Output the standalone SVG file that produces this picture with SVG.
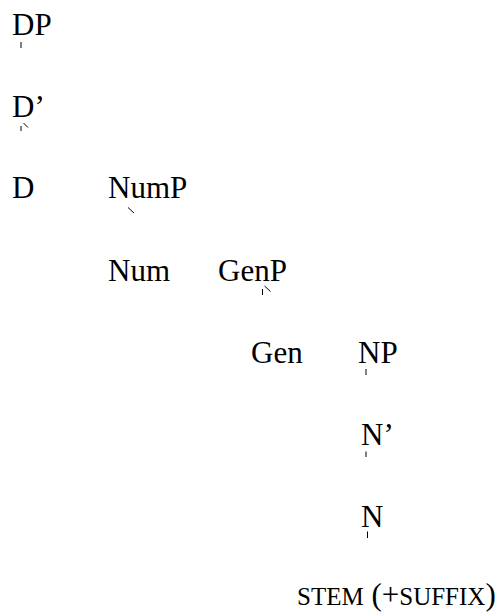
<svg xmlns="http://www.w3.org/2000/svg" width="497" height="612" viewBox="0 0 497 612">
  <style>
    .lbl { font-family: "Liberation Serif", "Times New Roman", Times, serif; font-size: 31px; fill: #000; }
    .sc { font-size: 25px; }
    .edge { stroke: #000; stroke-width: 1; fill: none; }
  </style>
  <rect width="497" height="612" fill="#fff"/>

  <!-- tree nodes -->
  <g font-family="Liberation Serif, serif">
    <g id="node-DP"><text class="lbl" x="12" y="35">DP</text></g>
    <g id="node-Dbar"><text class="lbl" x="12" y="117">D’</text></g>
    <g id="node-D"><text class="lbl" x="12" y="198">D</text></g>
    <g id="node-NumP"><text class="lbl" x="108" y="198">NumP</text></g>
    <g id="node-Num"><text class="lbl" x="108" y="281">Num</text></g>
    <g id="node-GenP"><text class="lbl" x="218" y="281">GenP</text></g>
    <g id="node-Gen"><text class="lbl" x="251" y="363">Gen</text></g>
    <g id="node-NP"><text class="lbl" x="358" y="363">NP</text></g>
    <g id="node-Nbar"><text class="lbl" x="361" y="445">N’</text></g>
    <g id="node-N"><text class="lbl" x="361" y="527">N</text></g>
    <g id="node-stem"><text class="lbl" x="297" y="605"><tspan class="sc">STEM</tspan> (+<tspan class="sc">SUFFIX</tspan>)</text></g>
  </g>

  <!-- branch stubs below each mother node -->
  <g id="connectors">
    <path class="edge" d="M21 42V48"/>
    <path class="edge" d="M21 126V131M23.5 123L28 127.5"/>
    <path class="edge" d="M128 207.5L134 213"/>
    <path class="edge" d="M262.5 289V295M264.5 286L270.5 291.5"/>
    <path class="edge" d="M366 369V375"/>
    <path class="edge" d="M366 451.5V457"/>
    <path class="edge" d="M367.5 531.5V538"/>
  </g>
</svg>
